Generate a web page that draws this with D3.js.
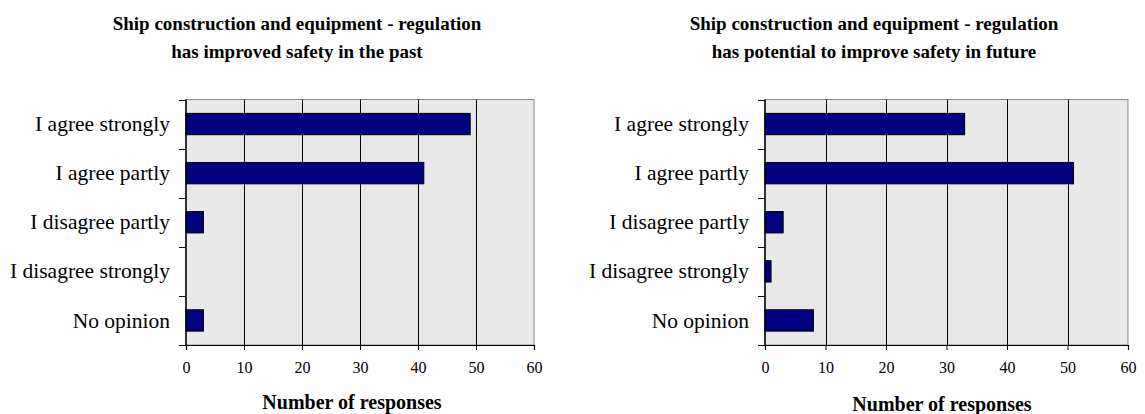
<!DOCTYPE html>
<html>
<head>
<meta charset="utf-8">
<script src="https://cdn.jsdelivr.net/npm/d3@7"></script>
<style>
html,body{margin:0;padding:0;background:#fff;}
svg{display:block;}
svg text{font-family:"Liberation Serif","Times New Roman",serif;}
</style>
</head>
<body>
<svg id="chart" width="1145" height="414"></svg>
<script>
const categories = ["I agree strongly","I agree partly","I disagree partly","I disagree strongly","No opinion"];
const pastValues = [49, 41, 3, 0, 3];
const futureValues = [33, 51, 3, 1, 8];
const xTicks = [0, 10, 20, 30, 40, 50, 60];
const titlesPast = ["Ship construction and equipment - regulation", "has improved safety in the past"];
const titlesFuture = ["Ship construction and equipment - regulation", "has potential to improve safety in future"];
const axisTitle = "Number of responses";

const svg = d3.select("#chart");

function drawPanel(cfg) {
  const g = svg.append("g");
  const x = d3.scaleLinear().domain([0, 60]).range([cfg.x0, cfg.x1]);
  const y = d3.scaleBand().domain(categories).range([99.5, 345]).paddingInner(0.565).paddingOuter(0.2825);
  const yb = d3.scaleBand().domain(categories).range([99.5, 345]);

  cfg.title.forEach((t, i) => {
    g.append("text").attr("x", cfg.tx).attr("y", 30 + i * 28)
      .attr("text-anchor", "middle").attr("font-size", 19).attr("font-weight", "bold")
      .attr("fill", "#000").text(t);
  });

  g.append("rect").attr("x", cfg.x0).attr("y", 99.5).attr("width", cfg.x1 - cfg.x0).attr("height", 345 - 99.5)
    .attr("fill", "#e9e9e9").attr("stroke", "#8a8a8a").attr("stroke-width", 1);

  g.selectAll(".grid").data(xTicks.filter(d => d > 0 && d < 60)).join("line")
    .attr("x1", d => Math.round(x(d)) + 0.5).attr("x2", d => Math.round(x(d)) + 0.5)
    .attr("y1", 99.5).attr("y2", 345).attr("stroke", "#000").attr("stroke-width", 1);

  g.selectAll(".bar").data(categories.map((c, i) => ({c, v: cfg.values[i]}))).join("rect")
    .attr("x", x(0)).attr("y", d => y(d.c)).attr("width", d => x(d.v) - x(0)).attr("height", y.bandwidth())
    .attr("fill", d => d.v > 0 ? "#000080" : "none").attr("stroke", d => d.v > 0 ? "#000" : "none").attr("stroke-width", 1);

  const xAxis = d3.axisBottom(x).tickValues(xTicks).tickSize(5).tickPadding(12);
  const ax = g.append("g").attr("transform", "translate(0,345)").call(xAxis);
  ax.attr("font-family", null).attr("font-size", null);
  ax.select(".domain").attr("stroke", "#000").attr("stroke-width", 1.2);
  ax.selectAll(".tick line").attr("stroke", "#000");
  ax.selectAll(".tick text").attr("font-size", 16).attr("fill", "#000").attr("dy", "0.71em");

  g.append("line").attr("x1", cfg.x0).attr("x2", cfg.x0).attr("y1", 99.5).attr("y2", 345)
    .attr("stroke", "#000").attr("stroke-width", 1.5);
  const bounds = categories.map(c => yb(c)).concat([345]);
  g.selectAll(".ytick").data(bounds).join("line")
    .attr("x1", cfg.x0 - 7).attr("x2", cfg.x0).attr("y1", d => Math.round(d) + 0.5).attr("y2", d => Math.round(d) + 0.5)
    .attr("stroke", "#000").attr("stroke-width", 1);
  g.selectAll(".ylab").data(categories).join("text")
    .attr("x", cfg.x0 - 16).attr("y", d => yb(d) + yb.bandwidth() / 2).attr("dy", "0.33em")
    .attr("text-anchor", "end").attr("font-size", 21.5).attr("fill", "#000").text(d => d);

  g.append("text").attr("x", cfg.ax).attr("y", cfg.ay).attr("text-anchor", "middle")
    .attr("font-size", 20).attr("font-weight", "bold").attr("fill", "#000").text(axisTitle);
}

drawPanel({x0: 186, x1: 534, values: pastValues, title: titlesPast, tx: 297, ax: 352, ay: 409});
drawPanel({x0: 765, x1: 1128, values: futureValues, title: titlesFuture, tx: 874, ax: 942, ay: 411});
</script>
</body>
</html>
